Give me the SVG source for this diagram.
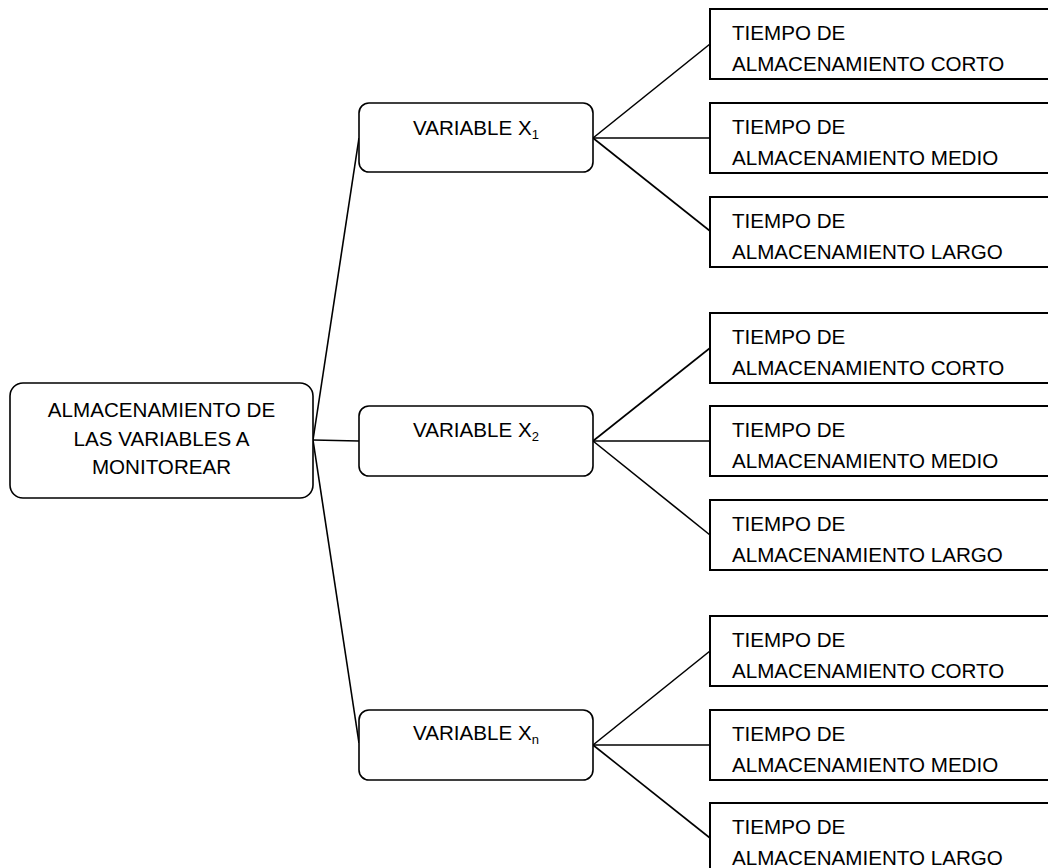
<svg xmlns="http://www.w3.org/2000/svg" width="1048" height="868" viewBox="0 0 1048 868">
<style>
.rb{fill:#fff;stroke:#000;stroke-width:1.6}
.lb{fill:#fff;stroke:#000;stroke-width:2}
.t{font-family:"Liberation Sans",Arial,sans-serif;font-size:20.6px;fill:#000}
.c{text-anchor:middle}
.sub{font-size:13px}
#connectors line{stroke:#000;stroke-width:1.6}
</style>
<rect width="1048" height="868" fill="#fff"/>
<g id="connectors">
<line x1="313" y1="440" x2="359" y2="138"/>
<line x1="313" y1="440" x2="359" y2="441"/>
<line x1="313" y1="440" x2="359" y2="743"/>
<line x1="593" y1="138" x2="710" y2="44"/>
<line x1="593" y1="138" x2="710" y2="138"/>
<line x1="593" y1="138" x2="710" y2="231"/>
<line x1="593" y1="441" x2="710" y2="348"/>
<line x1="593" y1="441" x2="710" y2="441"/>
<line x1="593" y1="441" x2="710" y2="535"/>
<line x1="593" y1="745" x2="710" y2="651"/>
<line x1="593" y1="745" x2="710" y2="745"/>
<line x1="593" y1="745" x2="710" y2="838"/>
</g>
<g id="root">
<rect class="rb" x="10" y="383" width="303" height="115" rx="13"/>
<text class="t c" x="161.5" y="417">ALMACENAMIENTO DE</text>
<text class="t c" x="161.5" y="446">LAS VARIABLES A</text>
<text class="t c" x="161.5" y="474">MONITOREAR</text>
</g>
<g id="var1">
<rect class="rb" x="359" y="103" width="234" height="69" rx="10"/>
<text class="t c" x="476" y="135">VARIABLE X<tspan class="sub" dy="4">1</tspan></text>
</g>
<g id="var2">
<rect class="rb" x="359" y="406" width="234" height="70" rx="10"/>
<text class="t c" x="476" y="437">VARIABLE X<tspan class="sub" dy="4">2</tspan></text>
</g>
<g id="varn">
<rect class="rb" x="359" y="710" width="234" height="70" rx="10"/>
<text class="t c" x="476" y="740">VARIABLE X<tspan class="sub" dy="4">n</tspan></text>
</g>
<g id="leaf1a"><rect class="lb" x="710" y="9" width="360" height="70"/><text class="t" x="732" y="40">TIEMPO DE</text><text class="t" x="732" y="71">ALMACENAMIENTO CORTO</text></g>
<g id="leaf1b"><rect class="lb" x="710" y="103" width="360" height="70"/><text class="t" x="732" y="134">TIEMPO DE</text><text class="t" x="732" y="165">ALMACENAMIENTO MEDIO</text></g>
<g id="leaf1c"><rect class="lb" x="710" y="197" width="360" height="70"/><text class="t" x="732" y="228">TIEMPO DE</text><text class="t" x="732" y="259">ALMACENAMIENTO LARGO</text></g>
<g id="leaf2a"><rect class="lb" x="710" y="313" width="360" height="70"/><text class="t" x="732" y="344">TIEMPO DE</text><text class="t" x="732" y="375">ALMACENAMIENTO CORTO</text></g>
<g id="leaf2b"><rect class="lb" x="710" y="406" width="360" height="70"/><text class="t" x="732" y="437">TIEMPO DE</text><text class="t" x="732" y="468">ALMACENAMIENTO MEDIO</text></g>
<g id="leaf2c"><rect class="lb" x="710" y="500" width="360" height="70"/><text class="t" x="732" y="531">TIEMPO DE</text><text class="t" x="732" y="562">ALMACENAMIENTO LARGO</text></g>
<g id="leaf3a"><rect class="lb" x="710" y="616" width="360" height="70"/><text class="t" x="732" y="647">TIEMPO DE</text><text class="t" x="732" y="678">ALMACENAMIENTO CORTO</text></g>
<g id="leaf3b"><rect class="lb" x="710" y="710" width="360" height="70"/><text class="t" x="732" y="741">TIEMPO DE</text><text class="t" x="732" y="772">ALMACENAMIENTO MEDIO</text></g>
<g id="leaf3c"><rect class="lb" x="710" y="803" width="360" height="70"/><text class="t" x="732" y="834">TIEMPO DE</text><text class="t" x="732" y="865">ALMACENAMIENTO LARGO</text></g>
</svg>
